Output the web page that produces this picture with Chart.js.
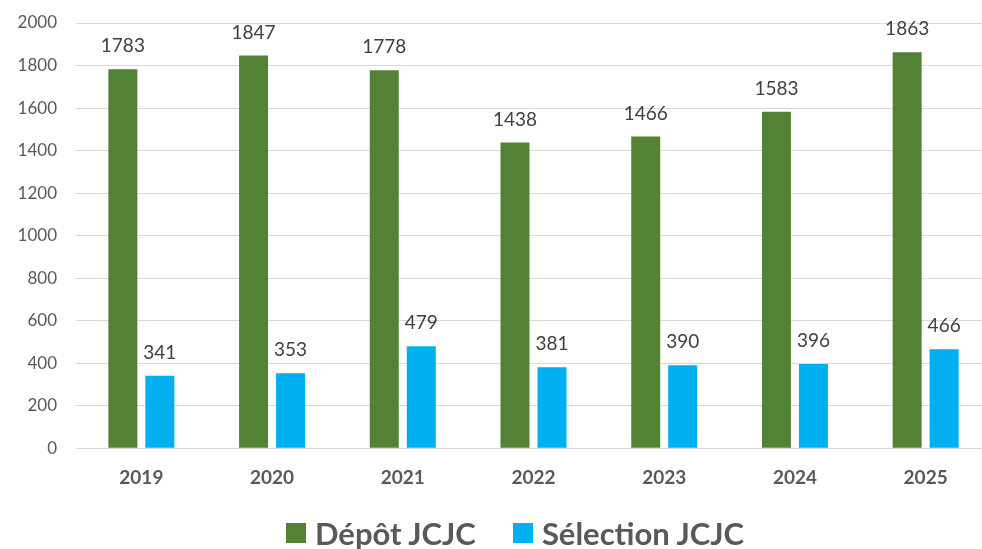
<!DOCTYPE html>
<html>
<head>
<meta charset="utf-8">
<script src="https://cdn.jsdelivr.net/npm/chart.js@4"></script>
<style>
  body { margin: 0; background: #fff; overflow: hidden; }
  #wrap { position: relative; width: 982px; height: 549px; overflow: hidden; }
  #box { position: absolute; left: 0; top: 0; width: 991px; height: 549px; }
  #legend { position: absolute; left: 286px; top: 515px; display: flex; align-items: center;
    font-family: Lato, sans-serif; font-weight: bold; font-size: 31px; color: #595959; line-height: 36px; }
  #legend span.sw { display: inline-block; width: 20px; height: 20px; margin-right: 9px; }
  #legend .item { display: flex; align-items: center; margin-right: 37px; }
</style>
</head>
<body>
<div id="wrap">
  <div id="box"><canvas id="chart"></canvas></div>
  <div id="legend"></div>
</div>
<script>
// Chart data
const years = ['2019', '2020', '2021', '2022', '2023', '2024', '2025'];
const depot = [1783, 1847, 1778, 1438, 1466, 1583, 1863];
const selection = [341, 353, 479, 381, 390, 396, 466];
const seriesNames = ['Dépôt JCJC', 'Sélection JCJC'];
const seriesColors = ['#548235', '#00B0F0'];

// value labels above each bar
const barLabels = {
    id: 'barLabels',
    afterDatasetsDraw(chart) {
        const ctx = chart.ctx;
        ctx.save();
        ctx.font = '19px Lato, sans-serif';
        ctx.fillStyle = '#404040';
        ctx.textAlign = 'center';
        ctx.textBaseline = 'middle';
        chart.data.datasets.forEach((ds, i) => {
            chart.getDatasetMeta(i).data.forEach((bar, j) => {
                ctx.fillText(ds.data[j], bar.x, bar.y - 23);
            });
        });
        ctx.restore();
    }
};

const ctx = document.getElementById('chart').getContext('2d');
const chart = new Chart(ctx, {
    type: 'bar',
    data: {
        labels: years,
        datasets: [{
            label: seriesNames[0],
            data: depot,
            backgroundColor: seriesColors[0],
            categoryPercentage: 0.566,
            barPercentage: 0.784
        }, {
            label: seriesNames[1],
            data: selection,
            backgroundColor: seriesColors[1],
            categoryPercentage: 0.566,
            barPercentage: 0.784
        }]
    },
    options: {
        responsive: true,
        maintainAspectRatio: false,
        animation: false,
        layout: { padding: { top: 23, bottom: 50, left: 0, right: 0 } },
        scales: {
            y: {
                min: 0,
                max: 2000,
                ticks: {
                    stepSize: 200,
                    padding: 0,
                    color: '#595959',
                    font: { family: 'Lato', size: 17 },
                    callback: (v) => String(v)
                },
                // invisible tick marks keep the labels away from the plot
                grid: { color: '#d9d9d9', tickLength: 19, tickColor: 'rgba(0,0,0,0)' },
                border: { display: false },
                afterFit(scale) { scale.width = 76; }
            },
            x: {
                ticks: {
                    padding: 10,
                    color: '#595959',
                    font: { family: 'Lato', size: 19, weight: 'bold' }
                },
                grid: { display: false },
                border: { color: '#d9d9d9' }
            }
        },
        plugins: {
            legend: { display: false },
            tooltip: { enabled: false }
        }
    },
    plugins: [barLabels]
});

// legend as html
const legend = document.getElementById('legend');
seriesNames.forEach((name, i) => {
    const item = document.createElement('div');
    item.className = 'item';
    item.innerHTML = `<span class="sw" style="background:${seriesColors[i]}"></span>${name}`;
    legend.appendChild(item);
});
</script>
</body>
</html>
